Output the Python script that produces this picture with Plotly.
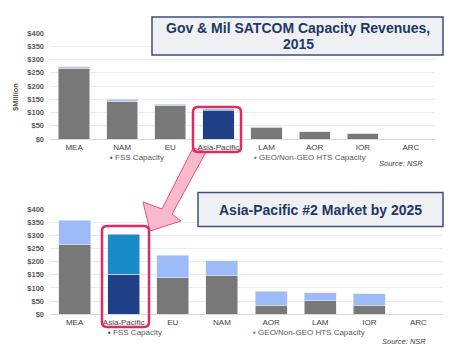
import plotly.graph_objects as go

# ---------------- data ----------------
regions_2015 = ["MEA", "NAM", "EU", "Asia-Pacific", "LAM", "AOR", "IOR", "ARC"]
fss_2015 = [267, 141, 125, 106, 45, 27, 21, 0]
hts_2015 = [5, 9, 7, 6, 1, 0, 0, 0]

regions_2025 = ["MEA", "Asia-Pacific", "EU", "NAM", "AOR", "LAM", "IOR", "ARC"]
fss_2025 = [264, 152, 139, 147, 34, 52, 34, 0]
hts_2025 = [93, 152, 85, 57, 54, 30, 44, 0]

y_ticks = [0, 50, 100, 150, 200, 250, 300, 350, 400]
y_tick_labels = ["$" + str(v) for v in y_ticks]

title_top = ["Gov & Mil SATCOM Capacity Revenues,", "2015"]
title_bottom = "Asia-Pacific #2 Market by 2025"
highlight = "Asia-Pacific"

# ---------------- style ----------------
W, H = 455, 360
OFF = 8  # page body margin
FW, FH = W - OFF, H - OFF
FONT = "Liberation Sans, Arial, sans-serif"
GRAY = "#787878"
LIGHT_TOP = "#a7c3f2"
LIGHT = "#9dbaf9"
DARK = "#1f3f87"
TEAL = "#1a8bc9"
NAVY = "#1f3864"
PINK_LINE = "#e02a62"
ARROW_FILL = "#f8b9cb"
ARROW_LINE = "#e6517c"


def px(x):
    return (x - OFF) / FW


def py(y):
    return 1 - (y - OFF) / FH


def path_px(points, close=True):
    s = ""
    for cmd, pts in points:
        s += cmd + " " + " ".join(f"{px(x):.5f},{py(y):.5f}" for x, y in pts) + " "
    return s + ("Z" if close else "")


def rrect(x0, y0, x1, y1, r):
    return path_px([
        ("M", [(x0 + r, y0)]), ("L", [(x1 - r, y0)]), ("Q", [(x1, y0), (x1, y0 + r)]),
        ("L", [(x1, y1 - r)]), ("Q", [(x1, y1), (x1 - r, y1)]),
        ("L", [(x0 + r, y1)]), ("Q", [(x0, y1), (x0, y1 - r)]),
        ("L", [(x0, y0 + r)]), ("Q", [(x0, y0), (x0 + r, y0)]),
    ])


fig = go.Figure()


def colors(regions, base, hl):
    return [hl if r == highlight else base for r in regions]


edge = dict(width=0.6, color="#e8e8e8")
fig.add_trace(go.Bar(x=regions_2015, y=fss_2015, name="FSS Capacity", xaxis="x", yaxis="y",
                     marker=dict(color=colors(regions_2015, GRAY, DARK), line=edge)))
fig.add_trace(go.Bar(x=regions_2015, y=hts_2015, name="GEO/Non-GEO HTS Capacity", xaxis="x", yaxis="y",
                     marker=dict(color=colors(regions_2015, LIGHT_TOP, TEAL), line=edge)))
fig.add_trace(go.Bar(x=regions_2025, y=fss_2025, name="FSS Capacity", xaxis="x2", yaxis="y2",
                     marker=dict(color=colors(regions_2025, GRAY, DARK), line=edge)))
fig.add_trace(go.Bar(x=regions_2025, y=hts_2025, name="GEO/Non-GEO HTS Capacity", xaxis="x2", yaxis="y2",
                     marker=dict(color=colors(regions_2025, LIGHT, TEAL), line=edge)))

tickfont = dict(family=FONT, size=7.5, color="#595959", weight="bold")
catfont = dict(family=FONT, size=8, color="#404040")

common_y = dict(range=[0, 400], tickvals=y_ticks, ticktext=y_tick_labels, showgrid=True,
                gridcolor="#ececec", gridwidth=1, zeroline=False, showline=False, ticks="",
                tickfont=tickfont, automargin=False, fixedrange=True, ticklabelstandoff=5)
common_x = dict(showgrid=False, zeroline=False, showline=True, linecolor="#d9d9d9", linewidth=1,
                ticks="", tickfont=catfont, automargin=False, fixedrange=True, tickangle=0)

fig.update_layout(
    width=FW, height=FH, autosize=False,
    margin=dict(l=0, r=0, t=0, b=0),
    paper_bgcolor="white", plot_bgcolor="white",
    barmode="stack", bargap=0.35, showlegend=False,
    font=dict(family=FONT),
    xaxis=dict(domain=[px(50), px(435)], anchor="y", **common_x),
    yaxis=dict(domain=[py(139), py(33)], anchor="x", **common_y),
    xaxis2=dict(domain=[px(50), px(443)], anchor="y2", **common_x),
    yaxis2=dict(domain=[py(314.3), py(209)], anchor="x2", **common_y),
)

shapes = []
# arrow
shapes.append(dict(type="path", xref="paper", yref="paper",
                   path=path_px([("M", [(193, 148)]), ("L", [(162, 209)]), ("L", [(143, 202)]),
                                 ("L", [(150, 231)]), ("L", [(181, 221)]), ("L", [(172, 214)]),
                                 ("L", [(206, 152)])]),
                   fillcolor=ARROW_FILL, line=dict(color=ARROW_LINE, width=1)))
# title boxes
shapes.append(dict(type="rect", xref="paper", yref="paper", x0=px(152), x1=px(443), y0=py(55), y1=py(17),
                   fillcolor="#eef0f4", line=dict(color="#3f4f7e", width=1.5)))
shapes.append(dict(type="rect", xref="paper", yref="paper", x0=px(198), x1=px(443), y0=py(226.5), y1=py(192.5),
                   fillcolor="#eef0f4", line=dict(color="#3f4f7e", width=1.5)))
# highlight boxes
shapes.append(dict(type="path", xref="paper", yref="paper", path=rrect(193, 107, 241, 152, 5),
                   line=dict(color=PINK_LINE, width=2.5)))
shapes.append(dict(type="path", xref="paper", yref="paper", path=rrect(102, 226, 149, 327, 5),
                   line=dict(color=PINK_LINE, width=2.5)))
fig.update_layout(shapes=shapes)

ann = []


def text(x, y, t, size, color, bold=False, italic=False, xanchor="center", angle=0):
    s = t
    if bold:
        s = "<b>" + s + "</b>"
    if italic:
        s = "<i>" + s + "</i>"
    ann.append(dict(x=px(x), y=py(y), xref="paper", yref="paper", text=s, showarrow=False,
                    xanchor=xanchor, yanchor="middle", textangle=angle,
                    font=dict(family=FONT, size=size, color=color)))


text(298, 28, title_top[0], 14, NAVY, bold=True)
text(298, 44, title_top[1], 14, NAVY, bold=True)
text(320, 210, title_bottom, 14, NAVY, bold=True)
text(15, 97, "$Million", 7.5, "#595959", bold=True, angle=-90)

legfont = 8
legcol = "#595959"
text(108, 157, f"<span style='color:{DARK}'>▪</span> FSS Capacity", legfont, legcol, xanchor="left")
text(252, 157, f"<span style='color:{TEAL}'>▪</span> GEO/Non-GEO HTS Capacity", legfont, legcol, xanchor="left")
text(106, 332, f"<span style='color:{DARK}'>▪</span> FSS Capacity", legfont, legcol, xanchor="left")
text(251, 332, f"<span style='color:{TEAL}'>▪</span> GEO/Non-GEO HTS Capacity", legfont, legcol, xanchor="left")
text(401, 164, "Source: NSR", 7.5, "#404040", italic=True)
text(404, 341, "Source: NSR", 7.5, "#404040", italic=True)

fig.update_layout(annotations=ann)

fig.write_html("out.html")
